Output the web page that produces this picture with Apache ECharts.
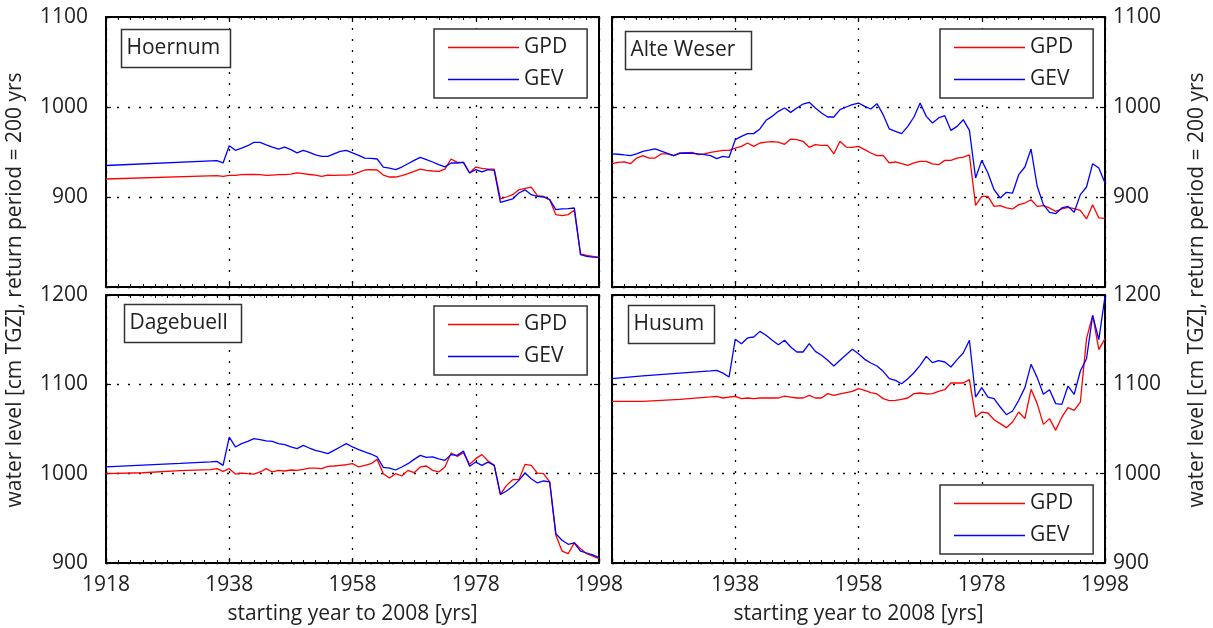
<!DOCTYPE html>
<html>
<head>
<meta charset="utf-8">
<script src="https://cdn.jsdelivr.net/npm/echarts/dist/echarts.min.js"></script>
<style>html,body{margin:0;padding:0;background:#fff}#c{width:1213px;height:628px}</style>
</head>
<body>
<div id="c"></div>
<script>
// ---------- data ----------
const xTickLabels = [1918, 1938, 1958, 1978, 1998];
const stationNames = ['Hoernum', 'Alte Weser', 'Dagebuell', 'Husum'];
const seriesNames = ['GPD', 'GEV'];
const yTitle = 'water level [cm TGZ], return period = 200 yrs';
const xTitle = 'starting year to 2008 [yrs]';

const years1938on = [1938,1939,1940,1941,1942,1943,1944,1945,1946,1947,
  1948,1949,1950,1951,1952,1953,1954,1955,1956,1957,
  1958,1959,1960,1961,1962,1963,1964,1965,1966,1967,
  1968,1969,1970,1971,1972,1973,1974,1975,1976,1977,
  1978,1979,1980,1981,1982,1983,1984,1985,1986,1987,
  1988,1989,1990,1991,1992,1993,1994,1995,1996,1997,1998];

const hoernumYears = [1918, 1936, 1937].concat(years1938on);
const hoernumGPD = [920, 923.7, 923,
  924, 924, 924.8, 925, 925, 924.8, 924, 924.4, 924.8, 924.8,
  925.5, 926.7, 926, 925, 924.4, 923, 924.4, 924, 924.4, 924.4,
  924.8, 927.4, 930, 930.4, 930, 924.4, 922.2, 922.2, 923.7, 926,
  928.5, 931, 929.6, 928.9, 928.5, 931, 942.2, 938.5, 938.5, 926.7,
  933.3, 931.9, 931, 931, 897.8, 900, 902.6, 908, 909.6, 911,
  901.5, 900.7, 897, 880.4, 879.3, 880.4, 885.2, 836.7, 835, 834,
  833];
const hoernumGEV = [935, 940.4, 937.8,
  957, 951.9, 954.4, 957, 960.7, 960.7, 958, 955.5, 953.3, 955.5,
  952.6, 949, 951.9, 949.6, 946.7, 945.2, 945.2, 948, 950.7, 951.9,
  949, 946.3, 943.3, 943, 942.2, 933.3, 932.2, 930.4, 933.3, 937,
  940.7, 944, 941.5, 938.9, 936, 933.5, 937.8, 937.8, 938.5, 926.7,
  930.4, 927.8, 930.4, 929.6, 894, 896, 898, 904.4, 908, 902.6,
  900.7, 900, 897, 886, 886.7, 887, 887.8, 836, 834, 833.3,
  833];

const alteWeserYears = [1918,1919,1920,1921,1922,1923,1924,1925,1926,1927,
  1928,1929,1930,1931,1932,1933,1934,1935,1936,1937].concat(years1938on);
const alteWeserGPD = [937, 938.5, 939, 937, 943.3, 946, 943.3, 943.3, 948, 948,
  946, 949, 949, 949.6, 947, 948, 949.6, 950.7, 951.9, 951.9,
  954.4, 956.3, 960, 956.3, 960, 961, 961.5, 961, 958.5, 964.4,
  963.7, 961.9, 955.2, 958.1, 957.4, 957.4, 948, 961.9, 955.5, 955.2,
  956.3, 952.6, 948.9, 946, 946.3, 937.8, 938.9, 937, 935.2, 937.8,
  939.6, 939.6, 936.7, 935.9, 940.7, 940.7, 943.3, 944.4, 946.7, 890.7,
  900.7, 900.7, 889.6, 890.4, 887.8, 886.7, 891.5, 893.3, 897, 889.6,
  890.4, 887.8, 884.1, 886.7, 888.5, 887, 885.2, 875.6, 891.5, 876.7,
  876.3];
const alteWeserGEV = [948, 947.5, 946.7, 946, 948, 950.7, 952, 953.5, 951, 948.5,
  946, 948.5, 948.9, 948.5, 948, 947, 946, 942.6, 945.2, 944.1,
  963.7, 967.4, 970.4, 970.4, 975.6, 985.2, 989.6, 995.2, 998.9, 994,
  998.9, 1003.3, 1005.2, 998.9, 993.3, 988.9, 988.9, 997, 1000, 1002.6,
  1004.4, 1000.7, 997.8, 1003.7, 991.5, 975.6, 973, 970.4, 978.5, 988.9,
  1004.4, 989.6, 982.2, 987.8, 990.4, 974, 978.5, 985.9, 974, 921.1,
  940.7, 926.7, 908.1, 898.9, 905.2, 904.4, 924.8, 933.3, 953.3, 911.9,
  891.5, 883, 881.5, 887.8, 889.6, 883, 902.6, 911.1, 937, 932.2,
  915.6];

const dagebuellYears = [1918, 1924, 1930, 1935, 1936, 1937].concat(years1938on);
const dagebuellGPD = [1000, 1001, 1003.5, 1004.5, 1005.6, 1002.6,
  1005.6, 999.6, 1000.7, 1000, 999.6, 1001.9, 1005.6, 1001.9, 1003.7, 1003,
  1004.1, 1003.7, 1004.9, 1006.3, 1006.3, 1005.6, 1008.2, 1008.6, 1009.3, 1010,
  1011.2, 1007.5, 1009.3, 1011.2, 1016, 1000, 995.1, 1000, 997.4, 1003.7,
  1001.1, 1007.5, 1008.6, 1003.7, 1001.9, 1007.5, 1023.1, 1019.4, 1023.5, 1010.4,
  1016.8, 1021.3, 1014.2, 1009.3, 976.9, 986.9, 993.3, 993.3, 1010.4, 1009.3,
  1000.7, 1000, 990.7, 931, 913.4, 910.4, 922.8, 916, 910.4, 907.8,
  905];
const dagebuellGEV = [1007.5, 1009.5, 1011.5, 1013.3, 1013.8, 1009.3,
  1041, 1029.9, 1033.6, 1036.2, 1039.2, 1038, 1036.6, 1036.2, 1033.6, 1032.5,
  1029.9, 1028, 1031.7, 1028.7, 1026.1, 1024.3, 1022.4, 1026.1, 1029.9, 1033.6,
  1029.9, 1026.9, 1024.3, 1022, 1018.7, 1007.1, 1006.3, 1004.1, 1007.5, 1011.2,
  1016, 1020.5, 1018.3, 1018.7, 1016.5, 1015, 1021.3, 1020.5, 1025.4, 1008.2,
  1013, 1009.3, 1013, 1009.3, 976.9, 980.6, 985.8, 992.5, 1000.7, 994.4,
  989.6, 991.8, 990.7, 932.8, 925.4, 920.9, 922.4, 913.4, 911.2, 909,
  906];

const husumYears = [1918, 1923, 1929, 1934, 1935, 1936, 1937].concat(years1938on);
const husumGPD = [1081, 1081, 1083.2, 1086, 1086.6, 1084.7, 1085.8,
  1086.6, 1084, 1084.7, 1084, 1084.7, 1084.7, 1084.7, 1084.7, 1086.9, 1085.8,
  1084.7, 1084.7, 1087.7, 1084.7, 1084.7, 1089.6, 1087.7, 1089.2, 1090.7, 1092.2,
  1095.1, 1093.3, 1090.7, 1089.2, 1084, 1081.7, 1082.1, 1083.2, 1084.7, 1089.6,
  1090.3, 1089.2, 1089.6, 1092.2, 1094, 1101.5, 1101.5, 1101.5, 1105.2, 1063.4,
  1069, 1067.9, 1060.4, 1056, 1051.5, 1057.8, 1069, 1061.6, 1094.4, 1078.4,
  1055.2, 1061.6, 1048.5, 1063.4, 1073.9, 1070.9, 1080.2, 1151.1, 1177.2, 1138.8,
  1151.1];
const husumGEV = [1106.3, 1109.5, 1112.5, 1115, 1115.7, 1112.5, 1108.2,
  1150.4, 1145.5, 1151.9, 1153, 1159.3, 1154.9, 1149.3, 1144.4, 1149.3, 1141.8,
  1136.2, 1136.2, 1145.5, 1136.9, 1132.5, 1126.9, 1120.5, 1126.9, 1133.2, 1139.2,
  1134.3, 1128, 1123.9, 1120.5, 1114.6, 1106.3, 1104.5, 1100.7, 1106.3, 1113,
  1121.3, 1131.3, 1124.3, 1126.5, 1125, 1119.4, 1127.6, 1135.1, 1149.3, 1085.8,
  1096.3, 1085.8, 1084, 1074.6, 1066, 1070.1, 1082.1, 1096.3, 1122.4, 1107.5,
  1088.8, 1094, 1078.4, 1077.6, 1098.1, 1088.8, 1114.9, 1128.7, 1177.2, 1150,
  1198.5];

const topYRange = [800, 1100];
const bottomYRange = [900, 1200];

// ---------- chart ----------
const FONT = '"Open Sans", "Noto Sans", sans-serif';
const TXT = '#222';
const panels = [
  {name: stationNames[0], years: hoernumYears, gpd: hoernumGPD, gev: hoernumGEV, yr: topYRange, row: 0, col: 0},
  {name: stationNames[1], years: alteWeserYears, gpd: alteWeserGPD, gev: alteWeserGEV, yr: topYRange, row: 0, col: 1},
  {name: stationNames[2], years: dagebuellYears, gpd: dagebuellGPD, gev: dagebuellGEV, yr: bottomYRange, row: 1, col: 0},
  {name: stationNames[3], years: husumYears, gpd: husumGPD, gev: husumGEV, yr: bottomYRange, row: 1, col: 1}
];
const gridBoxes = [
  {left: 106, top: 17, width: 493, height: 270},
  {left: 612, top: 17, width: 493, height: 270},
  {left: 106, top: 295, width: 493, height: 268},
  {left: 612, top: 295, width: 493, height: 268}
];
const titleBoxes = [
  {x: 121.5, y: 29.5, w: 109, h: 38},
  {x: 625.5, y: 31.5, w: 126, h: 38},
  {x: 124.5, y: 304.5, w: 117, h: 38},
  {x: 628.5, y: 305.5, w: 86, h: 38}
];
const legendPos = [
  {left: 434, top: 29},
  {left: 940, top: 29},
  {left: 434, top: 306},
  {left: 940, top: 485}
];

const dotted = {type: [2, 9], color: '#000', width: 1.3};
const axisLineStyle = {show: true, onZero: false, lineStyle: {color: '#000', width: 2}};

const grid = [], xAxis = [], yAxis = [], series = [], legend = [], graphic = [];
const xMin = xTickLabels[0], xMax = xTickLabels[xTickLabels.length - 1];
const xInt = xTickLabels[1] - xTickLabels[0];

panels.forEach((p, g) => {
  grid.push(Object.assign({show: false}, gridBoxes[g]));
  const bottomRow = p.row === 1;
  // bottom x axis
  xAxis.push({
    type: 'value', gridIndex: g, min: xMin, max: xMax, interval: xInt, position: 'bottom',
    axisLine: axisLineStyle,
    axisTick: {show: true, inside: true, length: 5, lineStyle: {color: '#000', width: 1.2}},
    minorTick: {show: true, splitNumber: 10, length: 3, lineStyle: {color: '#000', width: 1}},
    minorSplitLine: {show: false},
    axisLabel: {
      show: bottomRow, margin: 12, fontSize: 21, color: TXT, fontFamily: FONT,
      formatter: v => (p.col === 1 && v === xMin) ? '' : String(v)
    },
    splitLine: {show: true, lineStyle: dotted},
    name: bottomRow ? xTitle : '', nameLocation: 'middle', nameGap: 41,
    nameTextStyle: {fontSize: 21, color: TXT, fontFamily: FONT}
  });
  // top x axis (ticks only)
  xAxis.push({
    type: 'value', gridIndex: g, min: xMin, max: xMax, interval: xInt, position: 'top',
    axisLine: axisLineStyle,
    axisTick: {show: true, inside: true, length: 5, lineStyle: {color: '#000', width: 1.2}},
    minorTick: {show: true, splitNumber: 10, length: 3, lineStyle: {color: '#000', width: 1}},
    axisLabel: {show: false}, splitLine: {show: false}
  });
  const yfmt = v => (v === p.yr[0] && p.row === 0) ? '' : String(v);
  // left y axis
  yAxis.push({
    type: 'value', gridIndex: g, min: p.yr[0], max: p.yr[1], interval: 100, position: 'left',
    axisLine: axisLineStyle,
    axisTick: {show: true, inside: true, length: 5, lineStyle: {color: '#000', width: 1.2}},
    axisLabel: {show: p.col === 0, margin: 18, fontSize: 21, color: TXT, fontFamily: FONT, formatter: yfmt},
    splitLine: {show: true, lineStyle: dotted}
  });
  // right y axis
  yAxis.push({
    type: 'value', gridIndex: g, min: p.yr[0], max: p.yr[1], interval: 100, position: 'right',
    axisLine: axisLineStyle,
    axisTick: {show: true, inside: true, length: 5, lineStyle: {color: '#000', width: 1.2}},
    axisLabel: {show: p.col === 1, margin: 8, fontSize: 21, color: TXT, fontFamily: FONT, formatter: yfmt},
    splitLine: {show: false}
  });
  const cols = ['#ff0000', '#0000ff'];
  [p.gpd, p.gev].forEach((vals, k) => {
    series.push({
      type: 'line', name: seriesNames[k], xAxisIndex: 2 * g, yAxisIndex: 2 * g,
      data: p.years.map((yv, i) => [yv, vals[i]]),
      showSymbol: false, symbol: 'none', color: cols[k],
      lineStyle: {color: cols[k], width: 1.3}, z: 3, animation: false
    });
  });
  legend.push({
    left: legendPos[g].left, top: legendPos[g].top, orient: 'vertical',
    data: seriesNames.map(n => ({name: n, icon: 'rect'})),
    itemWidth: 71, itemHeight: 1.5, itemGap: 11, itemTextGap: 8,
    padding: [8, 20, 8, 14], borderColor: '#333', borderWidth: 1.5, backgroundColor: '#fff',
    selectedMode: false,
    textStyle: {fontSize: 21, color: TXT, fontFamily: FONT, lineHeight: 20}
  });
  const tb = titleBoxes[g];
  graphic.push({
    type: 'rect', z: 100, shape: {x: tb.x, y: tb.y, width: tb.w, height: tb.h},
    style: {fill: '#fff', stroke: '#333', lineWidth: 1.5}
  });
  graphic.push({
    type: 'text', z: 101, x: tb.x + 5, y: tb.y + tb.h / 2,
    style: {text: p.name, font: '21px ' + FONT, fill: TXT, verticalAlign: 'middle', align: 'left'}
  });
});

graphic.push({
  type: 'text', z: 101, x: 15, y: 290, rotation: Math.PI / 2,
  style: {text: yTitle, font: '21px ' + FONT, fill: TXT, align: 'center', verticalAlign: 'middle'}
});
graphic.push({
  type: 'text', z: 101, x: 1197, y: 290, rotation: Math.PI / 2,
  style: {text: yTitle, font: '21px ' + FONT, fill: TXT, align: 'center', verticalAlign: 'middle'}
});

const chart = echarts.init(document.getElementById('c'), null, {renderer: 'canvas'});
chart.setOption({
  animation: false, backgroundColor: '#fff',
  grid, xAxis, yAxis, series, legend, graphic
});
</script>
</body>
</html>
